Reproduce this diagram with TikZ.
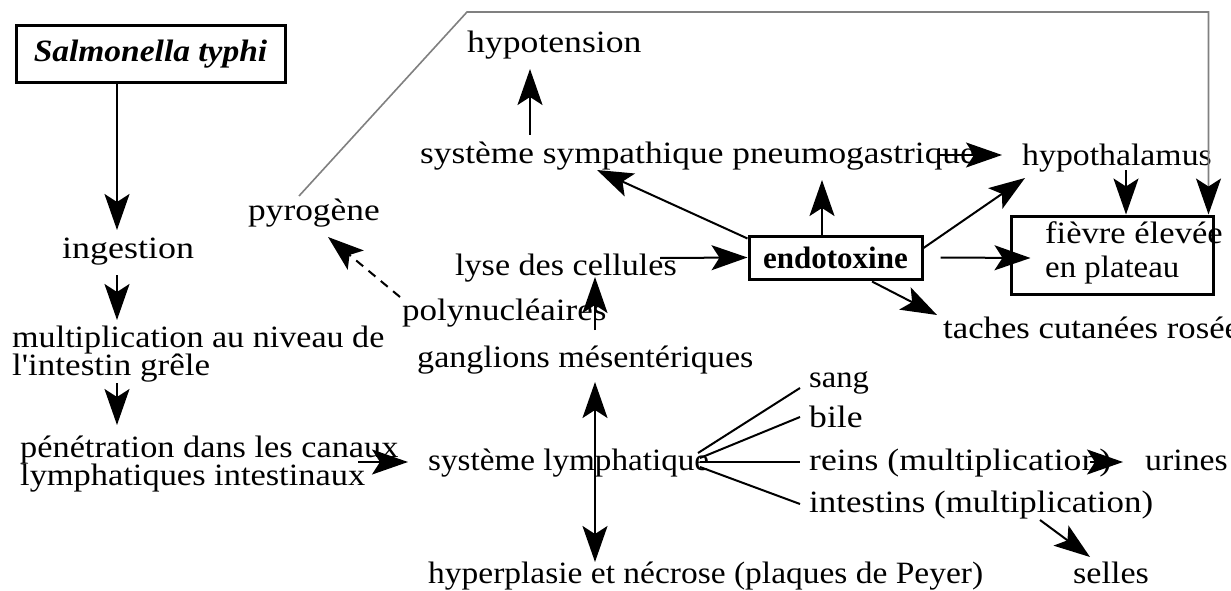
\documentclass[tikz,border=0pt]{standalone}
\usepackage{fontspec}
\usepackage{graphicx}
\setmainfont{Liberation Serif}
\usetikzlibrary{arrows.meta,calc}

% horizontally widened label text
\newcommand\widen[2]{\scalebox{#1}[1]{#2}}

\tikzset{
  lbl/.style={inner sep=0pt, anchor=base west, font=\fontsize{31pt}{34pt}\selectfont},
  boxed/.style={draw, line width=3pt, inner sep=0pt, font=\fontsize{31pt}{34pt}\selectfont},
  tip/.style={-{Stealth[length=36pt,width=25pt,inset=8pt]}},
  arr/.style={line width=2pt, tip},
  darr/.style={line width=2pt, {Stealth[length=36pt,width=25pt,inset=8pt]}-{Stealth[length=36pt,width=25pt,inset=8pt]}},
  branch/.style={line width=2pt},
  feedback/.style={line width=1.6pt, draw=gray, -{Stealth[length=36pt,width=25pt,inset=8pt,color=black]}}
}

\begin{document}
\begin{tikzpicture}[x=1pt, y=-1pt]
\useasboundingbox[fill=white] (0,0) rectangle (1231,591);

% entry chain on the left
\node[boxed, minimum width=269pt, minimum height=57pt] (salm) at (150.5,54.5) {\widen{1.08}{\bfseries\itshape Salmonella typhi}};
\node[lbl] (ingest) at (62,258) {\widen{1.16}{ingestion}};
\node[lbl] (mult)  at (12,347) {\widen{1.10}{multiplication au niveau de}};
\node[lbl] (multb) at (12,375) {\widen{1.13}{l\textquotesingle intestin grêle}};
\node[lbl] (pene)  at (20,457) {\widen{1.107}{pénétration dans les canaux}};
\node[lbl] (peneb) at (20,485) {\widen{1.11}{lymphatiques intestinaux}};

% lymphatic system and its spread
\node[lbl] (syslym) at (428,470) {\widen{1.07}{système lymphatique}};
\node[lbl] (gang)   at (417,367) {\widen{1.10}{ganglions mésentériques}};
\node[lbl] (hyper)  at (428,583) {\widen{1.08}{hyperplasie et nécrose (plaques de Peyer)}};
\node[lbl] (poly)   at (402,320) {\widen{1.13}{polynucléaires}};
\node[lbl] (pyro)   at (248,220) {\widen{1.14}{pyrogène}};
\node[lbl] (lyse)   at (455,275) {\widen{1.10}{lyse des cellules}};
\node[lbl] (sang)   at (809,387) {\widen{1.05}{sang}};
\node[lbl] (bile)   at (809,427) {\widen{1.15}{bile}};
\node[lbl] (reins)  at (809,470) {\widen{1.15}{reins (multiplication)}};
\node[lbl] (intest) at (809,512) {\widen{1.125}{intestins (multiplication)}};
\node[lbl] (urines) at (1145,470) {\widen{1.09}{urines}};
\node[lbl] (selles) at (1073,583) {\widen{1.10}{selles}};

% endotoxin and its effects
\node[boxed, minimum width=173pt, minimum height=43pt] (endo) at (835.5,257.5) {\bfseries endotoxine};
\node[lbl] (ssp)    at (420,164) {\widen{1.14}{système sympathique pneumogastrique}};
\node[lbl] (hypo)   at (467,53)  {\widen{1.15}{hypotension}};
\node[lbl] (hypoth) at (1022,165) {\widen{1.09}{hypothalamus}};
\node[boxed, minimum width=202pt, minimum height=78pt] (fievre) at (1112,255) {};
\node[lbl] (fievA)  at (1045,243) {\widen{1.115}{fièvre élevée}};
\node[lbl] (fievB)  at (1045,277) {\widen{1.06}{en plateau}};
\node[lbl] (tach)   at (943,338) {\widen{1.12}{taches cutanées rosées}};

% left chain arrows
\draw[arr] ([xshift=-33.5pt]salm.south) -- ($(ingest.base west)+(55,-28)$);
\draw[arr] ($(ingest.base west)+(55,17)$) -- ($(mult.base west)+(105,-27)$);
\draw[arr] ($(multb.base west)+(105,8)$) -- ($(pene.base west)+(97,-32)$);
\draw[arr] ($(pene.base west)+(338,5)$) -- ($(syslym.base west)+(-20,-8)$);

% lymphatic arrows
\draw[darr] ($(gang.base west)+(178,15)$) -- ($(hyper.base west)+(167,-21)$);
\draw[arr] ($(poly.base west)+(193,10)$) -- ($(lyse.base west)+(140,2)$);
\draw[arr, dashed, dash pattern=on 9pt off 7pt] ($(poly.base west)+(-2,-23)$) -- ($(pyro.base west)+(80,17)$);

% branches of the lymphatic system
\draw[branch] ($(syslym.base west)+(270,-17)$) -- ($(sang.base west)+(-9,1)$);
\draw[branch] ($(syslym.base west)+(272,-12)$) -- ($(bile.base west)+(-9,-10)$);
\draw[branch] ($(syslym.base west)+(272,-8)$) -- ($(reins.base west)+(-9,-8)$);
\draw[branch] ($(syslym.base west)+(272,-3)$) -- ($(intest.base west)+(-9,-8)$);
\draw[arr] ($(reins.base west)+(281,-8)$) -- ($(urines.base west)+(-22,-8)$);
\draw[arr] ($(intest.base west)+(231,8)$) -- ($(selles.base west)+(17,-26)$);

% endotoxin arrows
\draw[arr] ($(lyse.base west)+(205,-17)$) -- (endo.west);
\draw[arr] ($(endo.north west)+(0,4)$) -- ($(ssp.base west)+(177,6)$);
\draw[arr] ([xshift=-13.5pt]endo.north) -- ($(ssp.base west)+(402,16)$);
\draw[arr] ($(ssp.base west)+(110,-29)$) -- ($(hypo.base west)+(63,16)$);
\draw[arr] ($(ssp.base west)+(520,-9)$) -- ($(hypoth.base west)+(-20,-10)$);
\draw[arr] ($(endo.east)+(0,-9.5)$) -- ($(hypoth.base west)+(3,13)$);
\draw[arr] ($(hypoth.base west)+(104,5)$) -- ([xshift=14pt]fievre.north);
\draw[arr] ($(endo.east)+(17,0)$) -- ($(fievre.west)+(21,3)$);
\draw[arr] ($(endo.south)+(36.5,1)$) -- ($(tach.base west)+(-6,-23)$);

% pyrogen feedback to the fever
\draw[feedback] ($(pyro.base west)+(51,-24)$) -- ($(hypo.base west)+(0,-41)$) -| ([xshift=-6pt]fievre.north east);
\end{tikzpicture}
\end{document}
